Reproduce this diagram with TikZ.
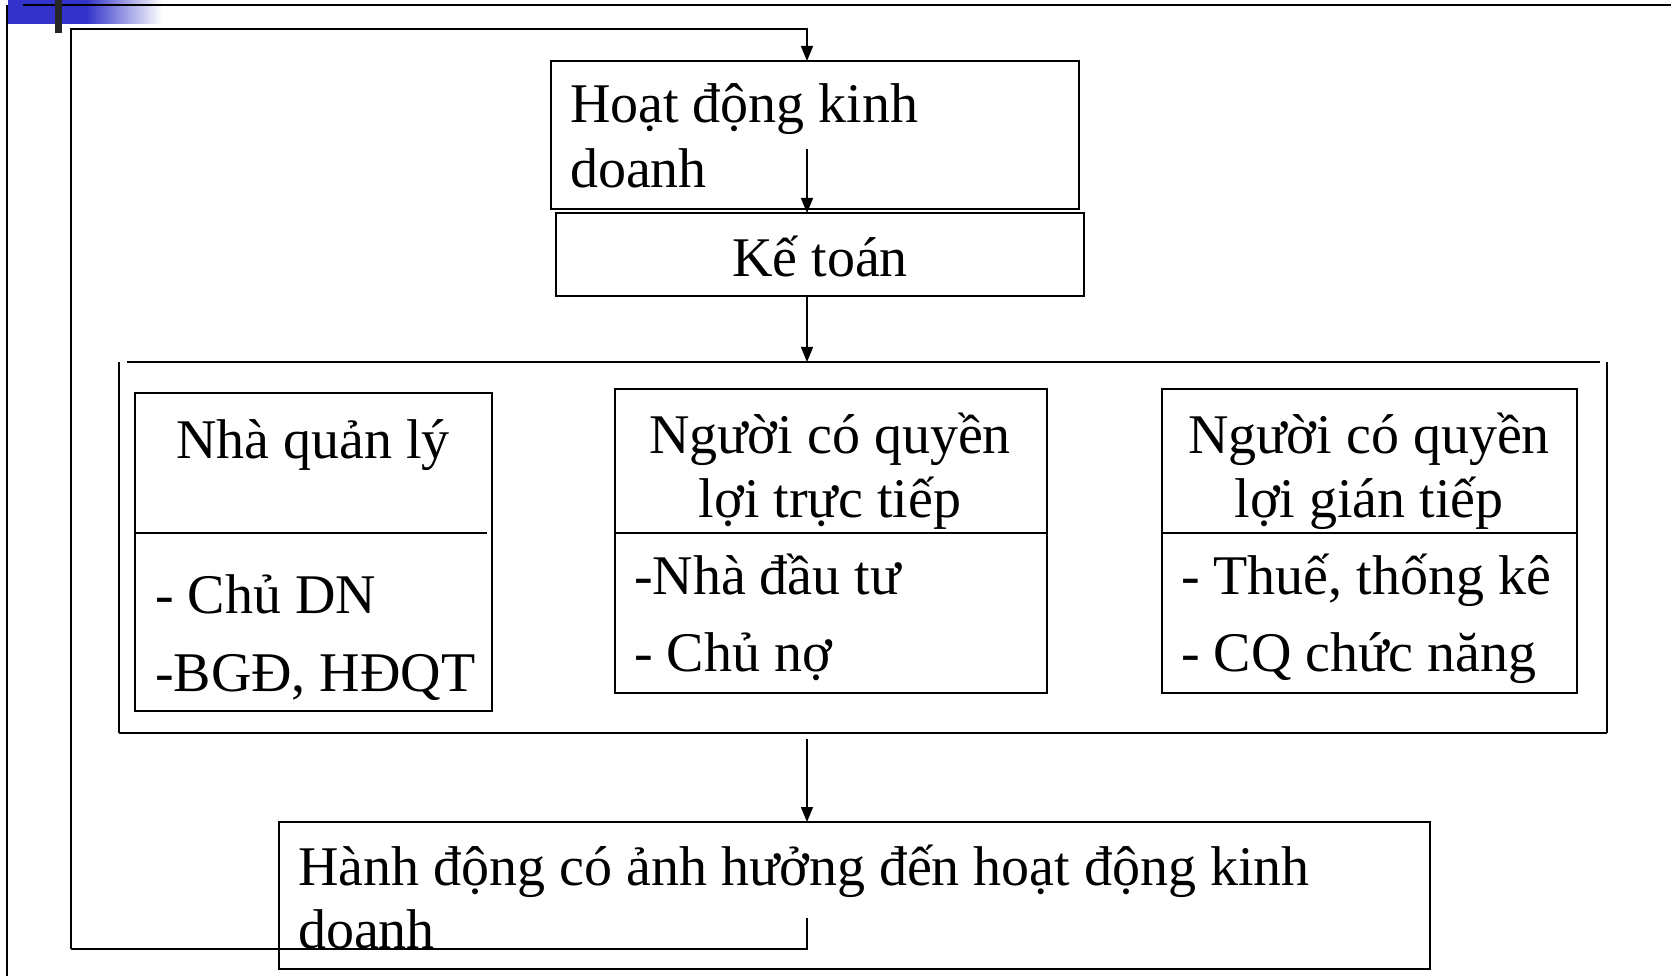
\documentclass[tikz,border=0pt]{standalone}
\usepackage{fontspec}
\setmainfont{Liberation Serif}
\usetikzlibrary{arrows.meta}
\definecolor{hdrblue}{RGB}{51,51,204}
\begin{document}
\begin{tikzpicture}[x=1pt,y=-1pt,
  box/.style={draw, line width=2pt, inner sep=0, outer sep=0, anchor=north west},
  txt/.style={inner sep=0, outer sep=0, font=\fontsize{56}{64}\selectfont},
  rule/.style={line width=2pt},
  link/.style={line width=1.5pt},
  arr/.style={link, -{Triangle[length=15pt,width=12pt]}}]

% page area
\path[fill=white, use as bounding box] (0,0) rectangle (1671,976);

% slide header ornament and frame
\fill[hdrblue] (8,0) rectangle (86,24);
\shade[left color=hdrblue, right color=white] (86,0) rectangle (162,24);
\draw[rule] (23,5) -- (1671,5);
\draw[link] (7,5) -- (7,976);
\fill[black!85] (55,0) rectangle (62,33);

% boxes
\node[box, minimum width=528, minimum height=148] (hd) at (551,61) {};
\node[box, minimum width=528, minimum height=83] (kt) at (556,213) {};
\node[box, minimum width=357, minimum height=318] (nq) at (135,393) {};
\node[box, minimum width=432, minimum height=304] (tt) at (615,389) {};
\node[box, minimum width=415, minimum height=304] (gt) at (1162,389) {};
\node[box, minimum width=1151, minimum height=147] (kq) at (279,822) {};

% dividers inside the three group boxes
\draw[rule] (nq.west |- 0,533) -- (487,533);
\draw[rule] (tt.west |- 0,533) -- (tt.east |- 0,533);
\draw[rule] (gt.west |- 0,533) -- (gt.east |- 0,533);

% container around the three groups
\coordinate (ctl) at (127,362);
\coordinate (ctr) at (1600,362);
\coordinate (cbl) at (119,733);
\coordinate (cbr) at (1607,733);
\draw[rule] (ctl) -- (ctr);
\draw[rule] (cbl) -- (cbr);
\draw[link] (cbl) -- (cbl |- ctl);
\draw[link] (cbr) -- (cbr |- ctl);

% texts
\node[txt, anchor=base west] (hdA) at (570,123) {Hoạt động kinh};
\node[txt, anchor=base west] (hdB) at (570,188) {doanh};
\node[txt, anchor=base] (ktA) at (820,277) {Kế toán};
\node[txt, anchor=base] (nqA) at (313,458) {Nhà quản lý};
\node[txt, anchor=base west] (nqB) at (155,613) {- Chủ DN};
\node[txt, anchor=base west] (nqC) at (155,691) {-BGĐ, HĐQT};
\node[txt, anchor=base] (ttA) at (830,453) {Người có quyền};
\node[txt, anchor=base] (ttB) at (830,517) {lợi trực tiếp};
\node[txt, anchor=base west] (ttC) at (634,594) {-Nhà đầu tư};
\node[txt, anchor=base west] (ttD) at (634,671) {- Chủ nợ};
\node[txt, anchor=base] (gtA) at (1369,453) {Người có quyền};
\node[txt, anchor=base] (gtB) at (1369,517) {lợi gián tiếp};
\node[txt, anchor=base west] (gtC) at (1181,594) {- Thuế, thống kê};
\node[txt, anchor=base west] (gtD) at (1181,671) {- CQ chức năng};
\node[txt, anchor=base west] (kqA) at (298,885) {Hành động có ảnh hưởng đến hoạt động kinh};
\node[txt, anchor=base west] (kqB) at (298,948) {doanh};

% flow arrows
\coordinate (a1) at (807,149);
\coordinate (a2) at (807,739);
\draw[arr] (a1) -- (a1 |- kt.north);
\draw[arr] (kt.south -| a1) -- (a1 |- ctl);
\draw[arr] (a2) -- (a2 |- kq.north);

% feedback loop back to the top
\coordinate (f1) at (807,918);
\coordinate (fl) at (71,949);
\coordinate (ft) at (71,29);
\draw[link] (f1) |- (fl);
\draw[arr] (fl) -- (ft) -| (hd.north -| a1);
\end{tikzpicture}
\end{document}
